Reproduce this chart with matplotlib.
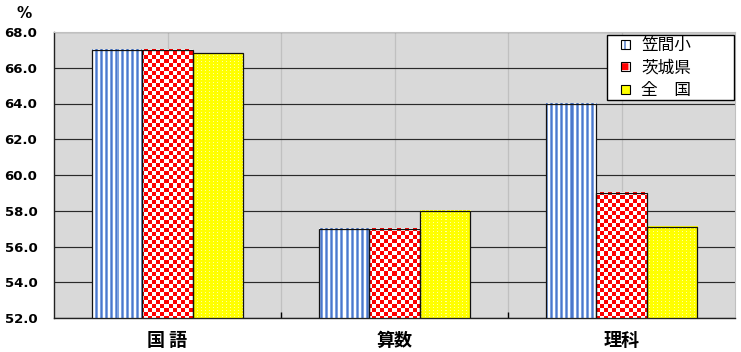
import numpy as np
import matplotlib
matplotlib.use("Agg")
import matplotlib.pyplot as plt
from matplotlib.patches import Patch, Rectangle
from matplotlib.legend_handler import HandlerBase

# Data
categories = ["国 語", "算数", "理科"]
series_names = ["笠間小", "茨城県", "全　国"]
kasama = [67.0, 57.0, 64.0]
ibaraki = [67.0, 57.0, 59.0]
national = [66.8, 58.0, 57.1]
y_ticks = [52.0, 54.0, 56.0, 58.0, 60.0, 62.0, 64.0, 66.0, 68.0]

CJK = ["Noto Sans CJK JP", "DejaVu Sans"]
NUM = ["DejaVu Sans"]

W, H = 741, 352
fig = plt.figure(figsize=(W / 100, H / 100), dpi=100)
L, R, B, T = 54, 735, 318, 32
ax = fig.add_axes([L / W, 1 - B / H, (R - L) / W, (B - T) / H])
ax.set_facecolor("#D9D9D9")
ax.set_xlim(-0.5, len(categories) - 0.5)
ax.set_ylim(y_ticks[0], y_ticks[-1])

# Gridlines and ticks
ax.set_yticks(y_ticks)
ax.set_yticklabels([f"{v:.1f}" for v in y_ticks], fontsize=9.5,
                   fontweight="bold", family=NUM)
ax.yaxis.grid(True, color="#2a2a2a", lw=0.85)
x = np.arange(len(categories))
ax.set_xticks(x)
ax.set_xticks(np.arange(len(categories) - 1) + 0.5, minor=True)
ax.set_xticklabels(categories, fontsize=13, fontweight="bold", family=CJK)
ax.xaxis.grid(True, which="both", color="#C0C0C0", lw=0.9)
ax.set_axisbelow(True)
ax.tick_params(axis="y", length=0, pad=12)
ax.tick_params(axis="x", which="major", length=0, pad=9.5)
ax.tick_params(axis="x", which="minor", length=4, direction="in", width=1)
for s in ("top", "right"):
    ax.spines[s].set_color("#C0C0C0")
for s in ("left", "bottom"):
    ax.spines[s].set_color("#222222")
    ax.spines[s].set_linewidth(1.0)

bw = 1 / 4.5
offsets = [-bw, 0.0, bw]
series = [kasama, ibaraki, national]


def stripe_tex(px, py):
    img = np.ones(px.shape + (3,))
    m = px % 5
    dark = np.array([0.30, 0.47, 0.80])
    light = np.array([0.50, 0.64, 0.88])
    img[m == 1] = dark
    img[m == 0] = light
    img[m == 2] = light
    return img


def checker_tex(px, py):
    img = np.ones(px.shape + (3,))
    c = ((px // 4) + (py // 4)) % 2 == 0
    img[c] = [1.0, 0.0, 0.0]
    return img


def dot_tex(px, py):
    img = np.zeros(px.shape + (3,))
    img[:] = [1.0, 1.0, 0.0]
    d = ((px % 4) == 1) & ((py % 3) == 1)
    img[d] = [1.0, 1.0, 0.62]
    return img


textures = [stripe_tex, checker_tex, dot_tex]

fig.canvas.draw()
for vals, off, tex in zip(series, offsets, textures):
    bars = ax.bar(x + off, np.array(vals) - y_ticks[0], bottom=y_ticks[0],
                  width=bw, facecolor="none", edgecolor="#111111", lw=0.9,
                  zorder=4)
    for rect in bars:
        x0, y0 = rect.get_x(), rect.get_y()
        x1, y1 = x0 + rect.get_width(), y0 + rect.get_height()
        (p0x, p0y), (p1x, p1y) = ax.transData.transform([(x0, y0), (x1, y1)])
        nx = max(int(round(p1x - p0x)), 1)
        ny = max(int(round(p1y - p0y)), 1)
        px, py = np.meshgrid(np.arange(nx) + int(round(p0x)),
                             np.arange(ny) + int(round(H - p1y)))
        ax.imshow(tex(px, py), extent=(x0, x1, y0, y1), aspect="auto",
                  interpolation="nearest", origin="upper", zorder=3,
                  clip_path=rect, clip_on=True)

ax.set_xlim(-0.5, len(categories) - 0.5)
ax.set_ylim(y_ticks[0], y_ticks[-1])


class SwatchHandler(HandlerBase):
    """Small framed swatch drawn at the right end of the handle box."""

    def __init__(self, face, hatch=None, hatch_color="none"):
        super().__init__()
        self.face, self.hatch, self.hatch_color = face, hatch, hatch_color

    def create_artists(self, legend, orig_handle, xdescent, ydescent,
                       width, height, fontsize, trans):
        s = 7.0
        x0 = width - s - xdescent
        y0 = (height - s) / 2 - ydescent
        fill = Rectangle((x0, y0), s, s * 0.9, facecolor=self.face,
                         hatch=self.hatch, edgecolor=self.hatch_color,
                         lw=0, transform=trans)
        box = Rectangle((x0, y0), s, s * 0.9, fill=False, edgecolor="black",
                        lw=0.8, transform=trans)
        return [fill, box]


handles = [Patch(label=n) for n in series_names]
hmap = {
    handles[0]: SwatchHandler("white", "|||", "#4472C4"),
    handles[1]: SwatchHandler("#FF0000", "++", "white"),
    handles[2]: SwatchHandler("#FFFF00"),
}
leg = ax.legend(handles, series_names, handler_map=hmap, loc="upper left",
                bbox_to_anchor=(0.812, 0.0, 0.186, 0.9895), mode="expand",
                prop={"family": CJK, "size": 12},
                fancybox=False, framealpha=1, edgecolor="black",
                handlelength=1.3, handleheight=0.6, handletextpad=0.65,
                labelspacing=0.33, borderpad=0.1, borderaxespad=0.0)
leg.get_frame().set_linewidth(1.0)
leg.set_zorder(6)

fig.text(24 / W, 1 - 13 / H, "%", ha="center", va="center",
         fontsize=11, fontweight="bold", family=NUM)

fig.savefig("out.png", dpi=100)
